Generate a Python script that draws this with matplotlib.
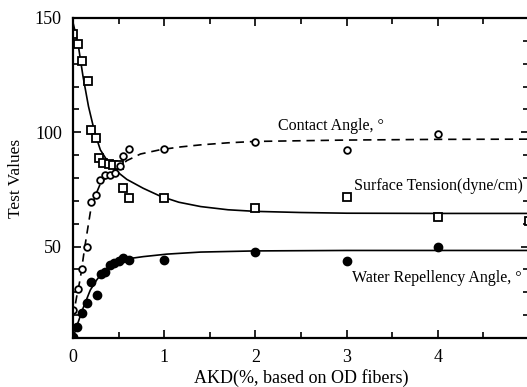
import numpy as np
import matplotlib
matplotlib.use("Agg")
import matplotlib.pyplot as plt
from matplotlib.ticker import MultipleLocator

plt.rcParams['font.family'] = ['Liberation Serif', 'DejaVu Serif']

# measured points
st_x = [0.0, 0.06, 0.1, 0.16, 0.2, 0.25, 0.29, 0.33, 0.39, 0.44, 0.50, 0.545, 0.61, 1.0, 2.0, 3.0, 4.0, 5.0]
st_y = [143, 138.5, 131.3, 122.4, 101, 97.4, 88.6, 86.7, 86, 85.7, 85.7, 75.8, 71.4, 71.4, 66.7, 71.5, 62.8, 61]

ca_x = [0.0, 0.05, 0.1, 0.15, 0.2, 0.25, 0.30, 0.35, 0.41, 0.46, 0.51, 0.55, 0.61, 1.0, 2.0, 3.0, 4.0]
ca_y = [22.2, 31.3, 40.3, 50, 69.6, 72.5, 79, 81.3, 81.3, 82, 85.2, 89.5, 92.5, 92.5, 95.9, 92.2, 99.2]

wr_x = [0.0, 0.04, 0.1, 0.15, 0.2, 0.26, 0.31, 0.35, 0.41, 0.45, 0.5, 0.55, 0.61, 1.0, 2.0, 3.0, 4.0]
wr_y = [10.6, 14.6, 20.8, 25.3, 34.6, 28.8, 37.8, 38.7, 42, 43, 43.8, 44.9, 44.1, 44.1, 47.8, 43.8, 49.7]

# fitted curves
st_cx = [0, 0.03, 0.06, 0.11, 0.17, 0.24, 0.3, 0.37, 0.46, 0.59, 0.77, 0.96, 1.16, 1.4, 1.7, 2.0, 2.5, 3, 4, 5]
st_cy = [148, 143, 137.5, 124.4, 111.3, 99.6, 92.3, 87.9, 83.5, 79.4, 75.5, 72.0, 69.4, 67.5, 66.1, 65.4, 64.9, 64.6, 64.5, 64.5]

ca_cx = [0, 0.04, 0.08, 0.13, 0.19, 0.24, 0.3, 0.39, 0.48, 0.59, 0.74, 0.96, 1.18, 1.4, 1.7, 2, 3, 4, 5]
ca_cy = [19, 28, 36, 50, 65, 71.8, 77.5, 81.3, 84, 87.6, 90.5, 92.4, 93.6, 94.5, 95.4, 96, 96.6, 96.9, 97]

wr_cx = [0, 0.04, 0.11, 0.19, 0.26, 0.33, 0.44, 0.59, 0.77, 1.03, 1.4, 2, 3, 4, 5]
wr_cy = [10, 15, 23, 31, 35.4, 39, 42.7, 44.6, 45.6, 46.7, 47.6, 48.1, 48.3, 48.3, 48.3]

fig = plt.figure(figsize=(5.27, 3.87), dpi=100)
ax = fig.add_axes([0.1385, 0.1266, 0.8655, 0.8269])

ax.plot(st_cx, st_cy, '-', color='black', lw=1.2)
ax.plot(ca_cx, ca_cy, '--', color='black', lw=1.2, dashes=(5, 3.5))
ax.plot(wr_cx, wr_cy, '-', color='black', lw=1.2)

ax.plot(st_x, st_y, 's', ms=5.5, mfc='white', mec='black', mew=1.3, ls='none')
ax.plot(ca_x, ca_y, 'o', ms=4.8, mfc='white', mec='black', mew=1.3, ls='none')
ax.plot(wr_x, wr_y, 'o', ms=6, mfc='black', mec='black', ls='none')

ax.text(2.25, 101, 'Contact Angle, \u00b0', fontsize=11.5, va='baseline')
ax.text(3.08, 74.7, 'Surface Tension(dyne/cm)', fontsize=11.5, va='baseline')
ax.text(3.06, 34.6, 'Water Repellency Angle, \u00b0', fontsize=11.5, va='baseline')

ax.set_xlim(0, 5)
ax.set_ylim(10, 150)
ax.set_xticks([0, 1, 2, 3, 4])
ax.set_yticks([50, 100, 150])
ax.xaxis.set_minor_locator(MultipleLocator(0.5))
ax.yaxis.set_minor_locator(MultipleLocator(10))
ax.tick_params(which='both', direction='in', top=True, right=True, labelsize=13, width=1.2)
ax.tick_params(which='major', length=6, pad=8)
ax.tick_params(which='minor', length=4)
for s in ax.spines.values():
    s.set_linewidth(1.6)

ax.set_xlabel('AKD(%, based on OD fibers)', fontsize=13, labelpad=2)
ax.set_ylabel('Test Values', fontsize=12.5, labelpad=8)

fig.savefig('out.png', dpi=100)
